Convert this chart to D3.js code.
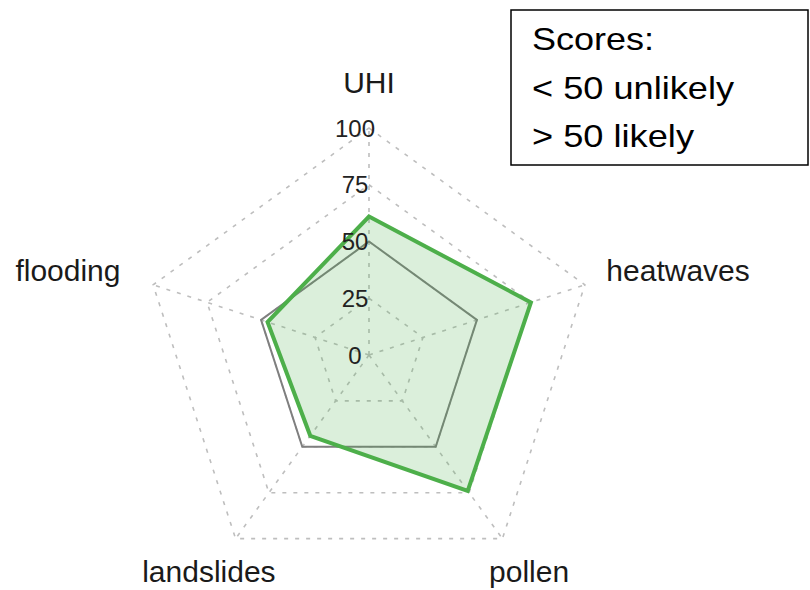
<!DOCTYPE html>
<html>
<head>
<meta charset="utf-8">
<script src="https://cdn.jsdelivr.net/npm/d3@7"></script>
<style>
    body { margin: 0; background: #ffffff; }
</style>
</head>
<body>
<div id="radar"></div>
<script>
// data
const categories = ["UHI", "heatwaves", "pollen", "landslides", "flooding"];
const scores = [61, 75, 74, 44, 47];
const threshold = [50, 50, 50, 50, 50];
const gridLevels = [0, 25, 50, 75, 100];
const legendLines = ["Scores:", "< 50 unlikely", "> 50 likely"];

function drawRadar(divId) {
    const width = 810,
        height = 590;
    const cx = 369,
        cy = 355,
        radius = 227;

    const svg = d3.select(divId)
        .append("svg")
            .attr("width", width)
            .attr("height", height)
            .attr("viewBox", `0 0 ${width} ${height}`);

    const g = svg.append("g")
        .attr("transform", "translate(" + cx + "," + cy + ")");

    const r = d3.scaleLinear()
        .domain([0, 100])
        .range([0, radius]);

    const angle = d3.scalePoint()
        .domain(categories)
        .range([0, 2 * Math.PI * (categories.length - 1) / categories.length]);

    const radial = d3.lineRadial()
        .angle(d => angle(d.cat))
        .radius(d => r(d.value))
        .curve(d3.curveLinearClosed);

    const pointAt = (cat, value) => [
        Math.sin(angle(cat)) * r(value),
        -Math.cos(angle(cat)) * r(value)
    ];

    // grid pentagons
    g.selectAll(".grid")
        .data(gridLevels.filter(l => l > 0))
        .join("path")
            .attr("class", "grid")
            .attr("d", l => radial(categories.map(c => ({cat: c, value: l}))))
            .attr("fill", "none")
            .attr("stroke", "#bebebe")
            .attr("stroke-width", 1.6)
            .attr("stroke-dasharray", "4 7");

    // spokes
    g.selectAll(".spoke")
        .data(categories)
        .join("line")
            .attr("class", "spoke")
            .attr("x1", 0)
            .attr("y1", 0)
            .attr("x2", c => pointAt(c, 100)[0])
            .attr("y2", c => pointAt(c, 100)[1])
            .attr("stroke", "#bebebe")
            .attr("stroke-width", 1.6)
            .attr("stroke-dasharray", "4 7");

    // 50 line
    g.append("path")
        .datum(categories.map((c, i) => ({cat: c, value: threshold[i]})))
        .attr("d", radial)
        .attr("fill", "none")
        .attr("stroke", "#7f7f7f")
        .attr("stroke-width", 2);

    // scores
    g.append("path")
        .datum(categories.map((c, i) => ({cat: c, value: scores[i]})))
        .attr("d", radial)
        .attr("fill", "rgba(77,175,74,0.2)")
        .attr("stroke", "#4daf4a")
        .attr("stroke-width", 4)
        .attr("stroke-linejoin", "miter");

    // level labels
    g.selectAll(".level-label")
        .data(gridLevels)
        .join("text")
            .attr("class", "level-label")
            .attr("x", -14)
            .attr("y", l => -r(l))
            .style("dominant-baseline", "central")
            .style("text-anchor", "middle")
            .style("font-family", "Liberation Sans, Arial, sans-serif")
            .style("font-size", "24px")
            .style("fill", "#222222")
            .text(l => l);

    // category labels, left/right ones sit further out, bottom ones nudged up
    const labelOffset = {heatwaves: [50, 0], flooding: [-42, 0], pollen: [0, -4], landslides: [0, -4]};
    g.selectAll(".cat-label")
        .data(categories)
        .join("text")
            .attr("class", "cat-label")
            .attr("x", c => pointAt(c, 120)[0] + (labelOffset[c] ? labelOffset[c][0] : 0))
            .attr("y", c => pointAt(c, 120)[1] + (labelOffset[c] ? labelOffset[c][1] : 0))
            .style("dominant-baseline", "central")
            .style("text-anchor", "middle")
            .style("font-family", "Liberation Sans, Arial, sans-serif")
            .style("font-size", "30px")
            .style("fill", "#1a1a1a")
            .text(c => c);

    // legend box
    const legend = svg.append("g")
        .attr("transform", "translate(511,10)");

    legend.append("rect")
        .attr("x", 0)
        .attr("y", 0)
        .attr("width", 297)
        .attr("height", 155)
        .attr("fill", "#ffffff")
        .attr("stroke", "#000000")
        .attr("stroke-width", 1.5);

    const legendWidths = [122, 202, 162];
    legend.selectAll(".legend-line")
        .data(legendLines)
        .join("text")
            .attr("class", "legend-line")
            .attr("x", 21)
            .attr("y", (d, i) => 40 + i * 48.5)
            .attr("textLength", (d, i) => legendWidths[i])
            .attr("lengthAdjust", "spacingAndGlyphs")
            .style("font-family", "Liberation Sans, Arial, sans-serif")
            .style("font-size", "32px")
            .style("fill", "#000000")
            .text(d => d);
}

drawRadar("#radar");
</script>
</body>
</html>
